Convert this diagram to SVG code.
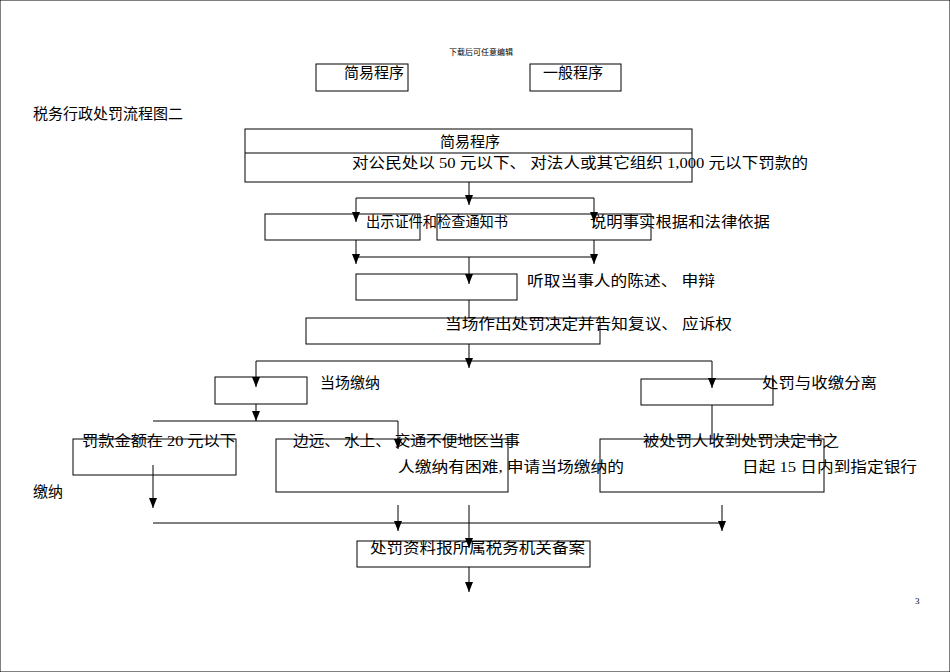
<svg xmlns="http://www.w3.org/2000/svg" width="950" height="672" viewBox="0 0 950 672">
<style>
text{font-family:"Liberation Serif","Noto Sans CJK SC",serif;font-size:15px;fill:#000}
rect{fill:none;stroke:#000;stroke-width:1}
line{stroke:#000;stroke-width:1}
</style>
<defs>
<marker id="d" markerWidth="8" markerHeight="10" refX="4" refY="10" markerUnits="userSpaceOnUse" viewBox="0 0 8 10"><path d="M0,0L8,0L4,10z" fill="#000"/></marker></defs>
<rect width="950" height="672" fill="#fff" stroke="none"/>
<text x="481" y="55" text-anchor="middle" style="font-size:8px">下载后可任意编辑</text>
<text x="33" y="119">税务行政处罚流程图二</text>
<text x="915" y="604" style="font-size:9px">3</text>
<g id="conn">
<line x1="469" y1="182" x2="469" y2="205" marker-end="url(#d)"/>
<line x1="356" y1="198" x2="594" y2="198"/>
<line x1="356" y1="198" x2="356" y2="222" marker-end="url(#d)"/>
<line x1="594" y1="198" x2="594" y2="222" marker-end="url(#d)"/>
<line x1="356" y1="240" x2="356" y2="264" marker-end="url(#d)"/>
<line x1="594" y1="240" x2="594" y2="264" marker-end="url(#d)"/>
<line x1="356" y1="257" x2="594" y2="257"/>
<line x1="469" y1="257" x2="469" y2="284" marker-end="url(#d)"/>
<line x1="469" y1="300" x2="469" y2="318"/>
<line x1="469" y1="344" x2="469" y2="368" marker-end="url(#d)"/>
<line x1="256" y1="361" x2="712" y2="361"/>
<line x1="256" y1="361" x2="256" y2="387" marker-end="url(#d)"/>
<line x1="712" y1="361" x2="712" y2="388" marker-end="url(#d)"/>
<line x1="256" y1="404" x2="256" y2="421" marker-end="url(#d)"/>
<line x1="153" y1="421" x2="398" y2="421"/>
<line x1="398" y1="421" x2="398" y2="449" marker-end="url(#d)"/>
<line x1="712" y1="405" x2="712" y2="439"/>
<line x1="153" y1="465" x2="153" y2="508" marker-end="url(#d)"/>
<line x1="153" y1="523" x2="722" y2="523"/>
<line x1="398" y1="505" x2="398" y2="531" marker-end="url(#d)"/>
<line x1="722" y1="505" x2="722" y2="531" marker-end="url(#d)"/>
<line x1="469" y1="505" x2="469" y2="548" marker-end="url(#d)"/>
<line x1="469" y1="567" x2="469" y2="592" marker-end="url(#d)"/>
</g>
<g id="n0"><rect x="316" y="64" width="92" height="27"/><text x="344" y="78">简易程序</text></g>
<g id="n1"><rect x="530" y="64" width="91" height="27"/><text x="543" y="78">一般程序</text></g>
<g id="n2"><rect x="245" y="129" width="447" height="53"/><line x1="245" y1="153" x2="692" y2="153"/><text x="470" y="147" text-anchor="middle">简易程序</text><text x="352" y="168" textLength="456" lengthAdjust="spacingAndGlyphs">对公民处以 50 元以下、 对法人或其它组织 1,000 元以下罚款的</text></g>
<g id="n3"><rect x="265" y="214" width="155" height="26"/><text x="366" y="227" textLength="142" lengthAdjust="spacingAndGlyphs">出示证件和检查通知书</text></g>
<g id="n4"><rect x="437" y="214" width="214" height="26"/><text x="590" y="227" textLength="180" lengthAdjust="spacingAndGlyphs">说明事实根据和法律依据</text></g>
<g id="n5"><rect x="356" y="274" width="161" height="26"/><text x="527" y="286" textLength="188" lengthAdjust="spacingAndGlyphs">听取当事人的陈述、 申辩</text></g>
<g id="n6"><rect x="306" y="318" width="294" height="26"/><text x="445" y="329" textLength="287" lengthAdjust="spacingAndGlyphs">当场作出处罚决定并告知复议、 应诉权</text></g>
<g id="n7"><rect x="215" y="377" width="92" height="27"/><text x="320" y="388">当场缴纳</text></g>
<g id="n8"><rect x="641" y="379" width="132" height="26"/><text x="762" y="388" textLength="115" lengthAdjust="spacingAndGlyphs">处罚与收缴分离</text></g>
<g id="n9"><rect x="73" y="439" width="163" height="36"/><text x="82" y="446" textLength="154" lengthAdjust="spacingAndGlyphs">罚款金额在 20 元以下</text></g>
<g id="n10"><rect x="276" y="439" width="232" height="53"/><text x="293" y="446" textLength="227" lengthAdjust="spacingAndGlyphs">边远、 水上、 交通不便地区当事</text><text x="398" y="472" textLength="226" lengthAdjust="spacingAndGlyphs">人缴纳有困难, 申请当场缴纳的</text></g>
<g id="n11"><rect x="600" y="439" width="224" height="53"/><text x="643" y="446" textLength="196" lengthAdjust="spacingAndGlyphs">被处罚人收到处罚决定书之</text><text x="742" y="472" textLength="175" lengthAdjust="spacingAndGlyphs">日起 15 日内到指定银行</text></g>
<text x="33" y="497">缴纳</text>
<g id="n12"><rect x="357" y="541" width="233" height="26"/><text x="370" y="553" textLength="215" lengthAdjust="spacingAndGlyphs">处罚资料报所属税务机关备案</text></g>
</svg>
